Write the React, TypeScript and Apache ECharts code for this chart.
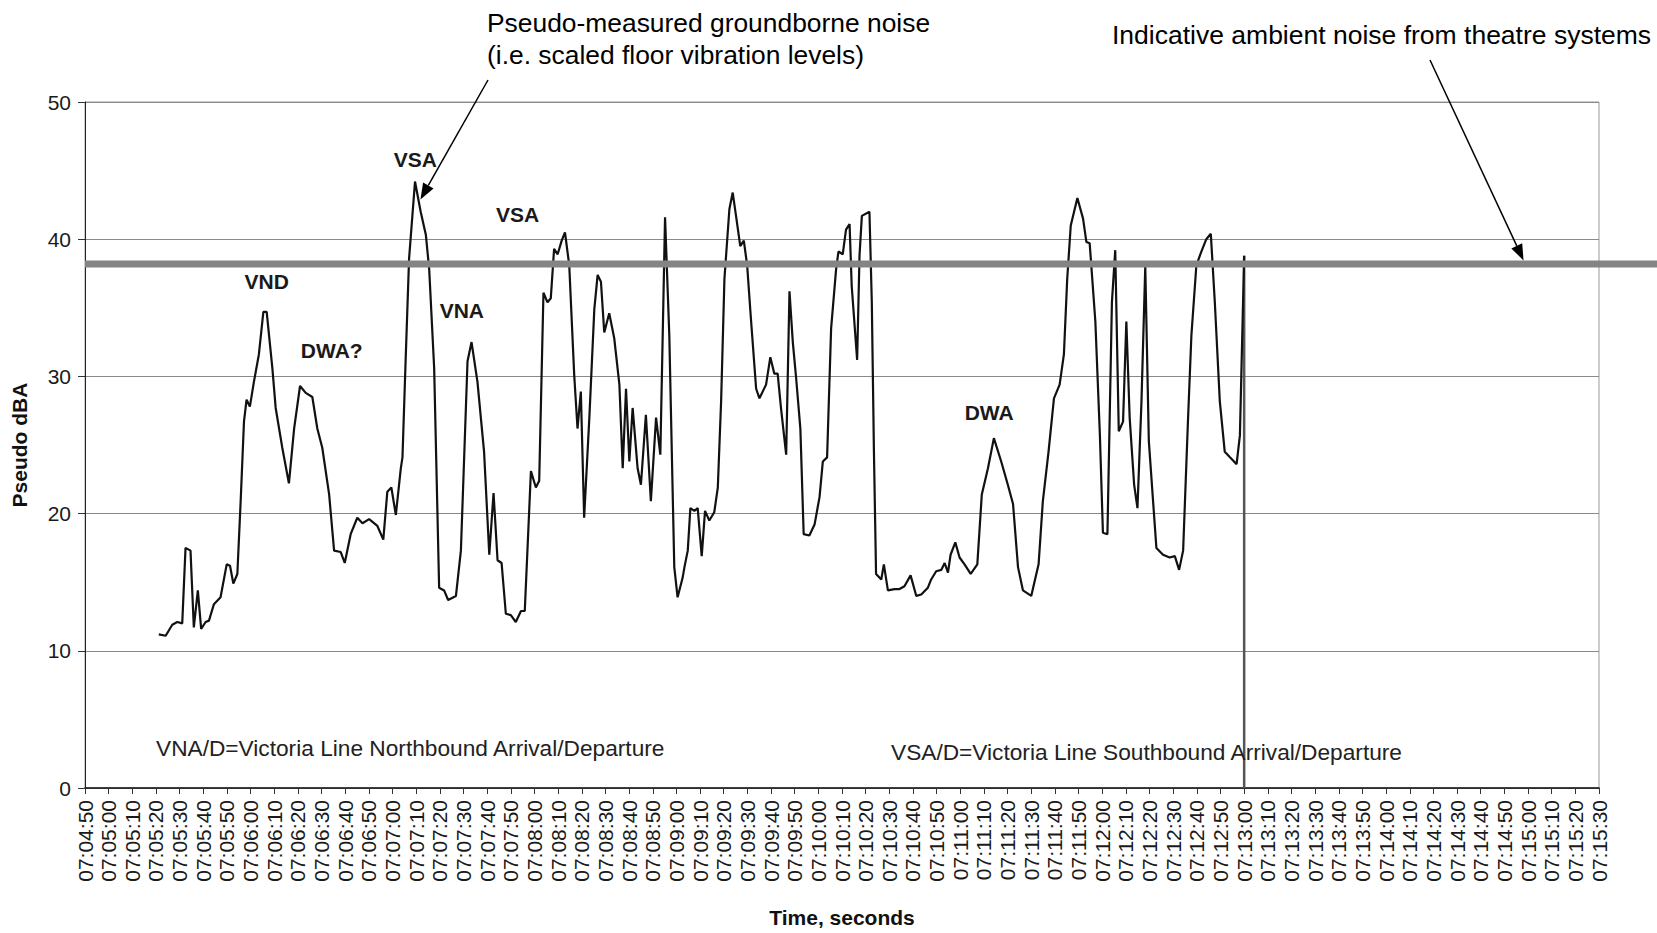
import React, { useEffect, useRef } from "react";
import * as echarts from "echarts";

// ---- data ----
const START_SEC = 25490; // 07:04:50 (seconds after midnight)
const END_SEC = 26130; // 07:15:30
const TICK_STEP = 10;
const AMBIENT_DBA = 38.2;
const yTickValues = [0, 10, 20, 30, 40, 50];

// seconds after 07:04:50
const elapsedSec = [
  31.2, 34.1, 36.9, 39.0, 41.1, 42.5, 44.6, 46.0, 47.7, 49.1, 51.0, 52.4, 54.5, 57.3, 59.9, 61.3, 62.7, 64.4,
  65.8, 67.2, 68.3, 69.7, 71.4, 73.5, 75.4, 76.8, 79.2, 80.6, 83.4, 86.2, 88.4, 90.9, 93.3, 96.1, 98.2, 100.3,
  103.2, 105.3, 108.1, 109.8, 112.3, 115.1, 117.3, 120.1, 123.6, 126.1, 127.8, 129.5, 131.4, 133.5, 134.2,
  135.6, 137.0, 139.5, 141.9, 144.1, 145.5, 147.6, 149.7, 151.8, 153.5, 156.8, 158.9, 161.7, 163.4, 165.9,
  168.7, 170.9, 172.7, 174.4, 176.1, 177.9, 180.0, 182.1, 184.3, 185.9, 188.5, 190.6, 192.0, 193.8, 195.5,
  196.9, 198.3, 199.8, 201.5, 202.9, 204.7, 206.8, 208.2, 209.6, 211.0, 213.2, 215.3, 216.7, 218.1, 219.5,
  221.6, 223.7, 225.9, 227.3, 228.7, 230.1, 231.5, 233.6, 235.0, 237.1, 239.2, 241.4, 243.2, 245.2, 247.0,
  249.1, 250.5, 252.6, 253.4, 254.8, 255.9, 257.6, 259.0, 260.7, 262.1, 263.9, 266.0, 267.5, 268.9, 270.3,
  272.4, 273.8, 275.2, 277.0, 278.5, 279.9, 281.5, 283.7, 285.1, 287.9, 289.7, 291.4, 292.8, 294.2, 296.4,
  297.8, 299.2, 300.6, 302.4, 303.8, 306.2, 308.4, 310.5, 311.9, 313.7, 315.4, 317.5, 318.5, 320.3, 321.7,
  323.2, 324.1, 326.4, 327.4, 328.4, 331.6, 332.6, 333.5, 334.4, 336.6, 337.7, 339.4, 342.2, 344.3, 346.4,
  349.0, 351.4, 353.5, 356.3, 357.7, 359.8, 362.0, 363.4, 364.8, 365.9, 367.9, 369.7, 371.8, 374.4, 377.2,
  379.1, 381.7, 384.2, 387.3, 390.1, 392.3, 394.4, 396.5, 400.0, 403.1, 404.9, 407.3, 409.6, 412.0, 413.8,
  415.2, 416.7, 419.5, 421.9, 423.3, 424.7, 427.1, 429.0, 430.3, 432.2, 434.1, 435.5, 437.0, 438.8, 440.2,
  441.6, 443.5, 444.9, 446.6, 448.2, 449.7, 451.5, 452.9, 455.7, 458.5, 460.7, 462.5, 464.2, 466.3, 467.7,
  469.8, 471.9, 474.0, 475.9, 477.6, 479.7, 481.8, 484.0, 486.8, 488.2, 490.0,
];

const pseudoDBA = [
  11.2, 11.1, 11.9, 12.1, 12.0, 17.5, 17.3, 11.7, 14.4, 11.6, 12.1, 12.2, 13.4, 13.9, 16.3, 16.2, 14.9, 15.6,
  20.9, 26.7, 28.3, 27.8, 29.6, 31.6, 34.7, 34.7, 30.6, 27.7, 24.8, 22.2, 26.2, 29.3, 28.8, 28.5, 26.2, 24.8,
  21.4, 17.3, 17.2, 16.4, 18.5, 19.7, 19.3, 19.6, 19.1, 18.1, 21.6, 21.9, 19.9, 23.3, 24.1,
  31.5, 38.6, 44.2, 42.0, 40.3, 37.8, 30.6, 14.6, 14.4, 13.7, 14.0, 17.3, 31.1, 32.5, 29.6,
  24.5, 17.0, 21.5, 16.6, 16.4, 12.7, 12.6, 12.1, 12.9, 12.9, 23.1, 21.9, 22.4, 36.1, 35.4,
  35.7, 39.3, 38.9, 39.9, 40.5, 38.1, 30.1, 26.2, 28.9, 19.7, 27.0, 34.9, 37.4, 36.9, 33.2,
  34.6, 32.8, 29.4, 23.3, 29.1, 23.8, 27.7, 23.3, 22.1, 27.2, 20.9, 27.0, 24.3, 41.6, 33.0,
  16.1, 13.9, 15.3, 16.1, 17.3, 20.4, 20.2, 20.4, 16.9, 20.2, 19.5, 20.1, 21.9, 28.2, 37.1,
  42.2, 43.4, 41.7, 39.5, 39.9, 38.1, 34.2, 29.1, 28.4, 29.4, 31.4, 30.2, 30.2, 27.7, 24.3,
  36.2, 32.5, 29.9, 26.2, 18.5, 18.4, 19.2, 21.2, 23.8, 24.1, 33.5, 37.8, 39.1, 38.9, 40.7,
  41.1, 36.6, 31.2, 38.8, 41.7, 42.0, 35.4, 24.5, 15.6, 15.2, 16.3, 14.4, 14.5, 14.5, 14.7,
  15.5, 14.0, 14.1, 14.6, 15.2, 15.8, 15.9, 16.4, 15.7, 17.0, 17.9, 16.8, 16.3, 15.6, 16.3,
  21.4, 23.3, 25.5, 23.8, 22.1, 20.7, 16.1, 14.4, 14.0, 16.3, 20.9, 24.5, 28.4, 29.4, 31.6,
  37.1, 41.0, 43.0, 41.5, 39.8, 39.7, 34.0, 25.8, 18.6, 18.5, 35.4, 39.2, 26.0, 26.7, 34.0,
  27.0, 22.1, 20.4, 28.2, 38.0, 25.3, 20.9, 17.5, 17.0, 16.8, 16.9, 15.9, 17.3, 27.0, 33.0,
  38.1, 39.1, 40.0, 40.4, 35.4, 28.2, 24.5, 24.1, 23.6, 25.7, 38.8,
];

// event annotations (position in data space)
const eventNames = ["VSA", "VSA", "VND", "VNA", "DWA?", "DWA"];
const eventElapsed = [139.6, 182.9, 76.8, 159.3, 104.3, 382.2];
const eventLevel = [45.8, 41.8, 36.9, 34.8, 31.9, 27.4];

// callouts
const calloutMeasured = ["Pseudo-measured groundborne noise", "(i.e. scaled floor vibration levels)"];
const calloutAmbient = "Indicative ambient noise from theatre systems";
const measuredArrowTip = { elapsed: 141.8, level: 42.9 };
const ambientArrowTipElapsed = 608.1;
const footnoteNorth = "VNA/D=Victoria Line Northbound Arrival/Departure";
const footnoteSouth = "VSA/D=Victoria Line Southbound Arrival/Departure";

const FONT = "'Liberation Sans', Arial, Helvetica, sans-serif";

function fmtTime(v: number): string {
  const t = Math.round(v);
  const h = Math.floor(t / 3600);
  const m = Math.floor((t % 3600) / 60);
  const s = t % 60;
  const p = (n: number) => (n < 10 ? "0" + n : "" + n);
  return `${p(h)}:${p(m)}:${p(s)}`;
}

function arrow(tail: number[], tip: number[], len = 16, half = 6) {
  const dx = tip[0] - tail[0];
  const dy = tip[1] - tail[1];
  const L = Math.hypot(dx, dy);
  const ux = dx / L;
  const uy = dy / L;
  const bx = tip[0] - ux * len;
  const by = tip[1] - uy * len;
  return [
    {
      type: "line",
      z: 100,
      shape: { x1: tail[0], y1: tail[1], x2: bx, y2: by },
      style: { stroke: "#000", lineWidth: 1.5 },
    },
    {
      type: "polygon",
      z: 100,
      shape: { points: [tip, [bx - uy * half, by + ux * half], [bx + uy * half, by - ux * half]] },
      style: { fill: "#000" },
    },
  ];
}

export default function App() {
  const ref = useRef<HTMLDivElement>(null);

  useEffect(() => {
    if (!ref.current) return;
    const chart = echarts.init(ref.current, undefined, { renderer: "svg" });

    const trace = elapsedSec.map((e, i) => [START_SEC + e, pseudoDBA[i]]);
    const lastIdx = elapsedSec.length - 1;
    const endT = START_SEC + elapsedSec[lastIdx];
    const drop = [
      [endT, pseudoDBA[lastIdx]],
      [endT, 0],
    ];

    chart.setOption({
      animation: false,
      backgroundColor: "#fff",
      textStyle: { fontFamily: FONT },
      grid: {
        left: 85,
        right: 58,
        top: 102,
        bottom: 141,
        show: true,
        borderColor: "#9a9a9a",
        borderWidth: 1,
      },
      xAxis: {
        type: "value",
        min: START_SEC,
        max: END_SEC,
        interval: TICK_STEP,
        name: "Time, seconds",
        nameLocation: "middle",
        nameGap: 119,
        nameTextStyle: { fontFamily: FONT, fontWeight: "bold", fontSize: 21, color: "#111" },
        axisLine: { lineStyle: { color: "#111", width: 1.5 } },
        axisTick: { show: true, length: 6, lineStyle: { color: "#333" } },
        axisLabel: {
          rotate: 90,
          margin: 12,
          fontSize: 21,
          color: "#1a1a1a",
          fontFamily: FONT,
          formatter: (v: number) => fmtTime(v),
        },
        splitLine: { show: false },
      },
      yAxis: {
        type: "value",
        min: yTickValues[0],
        max: yTickValues[yTickValues.length - 1],
        interval: 10,
        name: "Pseudo dBA",
        nameLocation: "middle",
        nameGap: 55,
        nameRotate: 90,
        nameTextStyle: { fontFamily: FONT, fontWeight: "bold", fontSize: 21, color: "#111" },
        axisLine: { show: true, lineStyle: { color: "#222", width: 1 } },
        axisTick: { show: true, length: 7, lineStyle: { color: "#333" } },
        axisLabel: { fontSize: 21, color: "#1a1a1a", margin: 14, fontFamily: FONT },
        splitLine: { show: true, lineStyle: { color: "#8a8a8a", width: 1 } },
      },
      series: [
        {
          name: "Pseudo-measured groundborne noise",
          type: "line",
          data: trace,
          showSymbol: false,
          lineStyle: { color: "#111", width: 2.2 },
          z: 3,
          markPoint: {
            symbol: "circle",
            symbolSize: 0,
            itemStyle: { color: "transparent" },
            label: {
              show: true,
              position: "inside",
              formatter: (p: any) => p.name,
              fontFamily: FONT,
              fontWeight: "bold",
              fontSize: 21,
              color: "#1a1a1a",
            },
            data: eventNames.map((n, i) => ({
              name: n,
              coord: [START_SEC + eventElapsed[i], eventLevel[i]],
            })),
          },
        },
        {
          name: "end",
          type: "line",
          data: drop,
          showSymbol: false,
          lineStyle: { color: "#555", width: 2.5 },
          z: 2,
        },
      ],
    });

    const [gx0, ambY] = chart.convertToPixel({ gridIndex: 0 }, [START_SEC, AMBIENT_DBA]) as number[];
    const tip1 = chart.convertToPixel({ gridIndex: 0 }, [
      START_SEC + measuredArrowTip.elapsed,
      measuredArrowTip.level,
    ]) as number[];
    const tip2x = chart.convertToPixel({ xAxisIndex: 0 }, START_SEC + ambientArrowTipElapsed) as number;
    const ambWidth = 7;

    const textStyle = (text: string, size: number, extra: any = {}) => ({
      text,
      fontFamily: FONT,
      fontSize: size,
      fill: "#000",
      align: "left",
      verticalAlign: "middle",
      ...extra,
    });

    chart.setOption({
      graphic: [
        {
          type: "line",
          z: 50,
          shape: { x1: gx0, y1: ambY, x2: 1657, y2: ambY },
          style: { stroke: "#848484", lineWidth: ambWidth },
        },
        { type: "text", z: 100, x: 487, y: 23, style: textStyle(calloutMeasured[0], 26.4) },
        { type: "text", z: 100, x: 487, y: 55, style: textStyle(calloutMeasured[1], 26.4) },
        { type: "text", z: 100, x: 1112, y: 35, style: textStyle(calloutAmbient, 26.5) },
        ...arrow([488, 80], tip1),
        ...arrow([1430, 60], [tip2x, ambY - ambWidth / 2]),
        { type: "text", z: 100, x: 156, y: 748, style: textStyle(footnoteNorth, 22.7, { fill: "#222" }) },
        { type: "text", z: 100, x: 891, y: 752, style: textStyle(footnoteSouth, 22.7, { fill: "#222" }) },
      ],
    });

    return () => chart.dispose();
  }, []);

  return (
    <div
      ref={ref}
      style={{ position: "fixed", left: 0, top: 0, width: 1657, height: 933, background: "#fff" }}
    />
  );
}
